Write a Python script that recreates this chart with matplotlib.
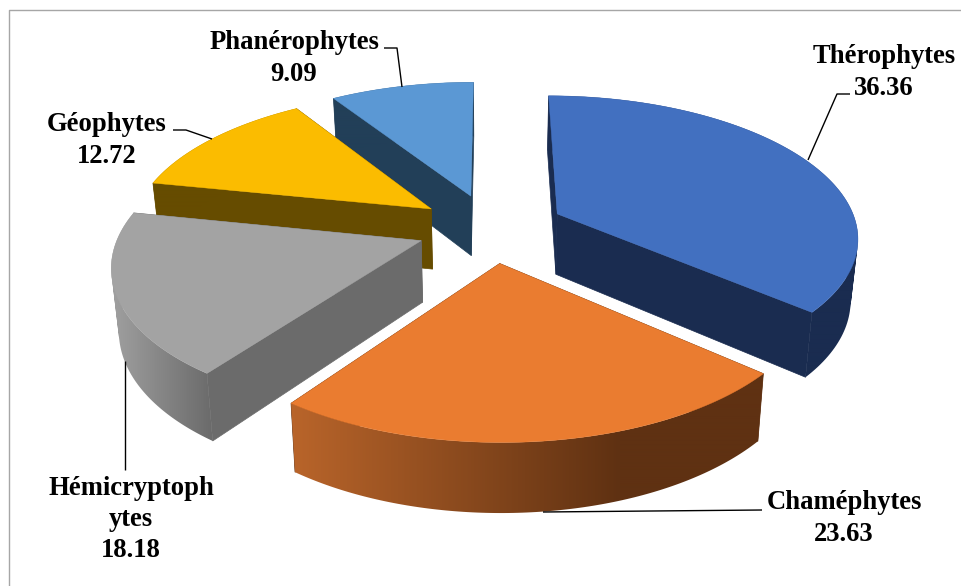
import numpy as np
import matplotlib
matplotlib.use("Agg")
import matplotlib.pyplot as plt
from matplotlib.patches import PathPatch
from matplotlib.path import Path
from matplotlib.colors import to_rgb

# ---------- data ----------
categories = ["Thérophytes", "Chaméphytes", "Hémicryptophytes", "Géophytes", "Phanérophytes"]
wrapped_names = ["Thérophytes", "Chaméphytes", "Hémicryptoph\nytes", "Géophytes", "Phanérophytes"]
values = [36.36, 23.63, 18.18, 12.72, 9.09]

# ---------- styles ----------
top_colors = ["#4270c0", "#ea7c30", "#a3a3a3", "#fbbc00", "#5b98d4"]
wall_colors = ["#1a2c50", "#5f3112", "#6b6b6b", "#664c00", "#223f58"]
rim_light = ["#1a2c50", "#b8642a", "#a0a0a0", "#664c00", "#223f58"]
rim_dark = ["#1a2c50", "#5f3112", "#6b6b6b", "#664c00", "#223f58"]
rim_span = [(700, 860), (296, 620), (112, 212), (150, 300), (330, 480)]
draw_order = [4, 3, 2, 0, 1]

label_centers = [(884, 71), (844, 517), (131, 518), (107, 139), (294, 57)]
leaders = [
    [(850, 94), (837, 94), (808, 160)],
    [(543, 512), (762, 510)],
    [(125, 361), (125, 470)],
    [(173, 130), (186, 130), (212, 139)],
    [(384, 48), (397, 48), (402, 87)],
]

# ---------- projection settings ----------
CX, CY = 491.0, 228.0
RX, RY = 308.0, 143.5
PERSP = 0.155
EXPLODE = 0.24
RADIUS = 0.975
DEPTH = 61.0
SHRINK = 0.02


def project(X, Y):
    w = 1 + PERSP * Y
    return CX + RX * X / w, CY - RY * Y / w


def lower(x, y, X, Y):
    w = 1 + PERSP * Y
    return CX + (x - CX) * (1 - SHRINK), y + DEPTH / w ** 0.7


def gradient_image(c0, c1, x0, x1, left, right):
    xs = np.arange(int(left), int(right) + 2) + 0.5
    t = np.clip((xs - x0) / (x1 - x0), 0, 1)[None, :, None]
    a, b = np.array(to_rgb(c0))[None, None, :], np.array(to_rgb(c1))[None, None, :]
    return a + (b - a) * t


def swept_path(rx, ry, bx, by):
    """Union of the wall quads, all wound the same way so none cancels another."""
    verts, codes = [], []
    for k in range(len(rx) - 1):
        q = np.array([(rx[k], ry[k]), (rx[k + 1], ry[k + 1]), (bx[k + 1], by[k + 1]), (bx[k], by[k])])
        area = np.sum(q[:, 0] * np.roll(q[:, 1], -1) - np.roll(q[:, 0], -1) * q[:, 1])
        if area < 0:
            q = q[::-1]
        verts += list(q) + [q[0]]
        codes += [Path.MOVETO, Path.LINETO, Path.LINETO, Path.LINETO, Path.CLOSEPOLY]
    return Path(np.array(verts), codes)


fig = plt.figure(figsize=(9.61, 5.86), dpi=100, facecolor="white")
ax = fig.add_axes([0, 0, 1, 1])
ax.axis("off")

ax.plot([9, 9, 961], [586, 9.5, 9.5], color="#a6a6a6", lw=1.0, zorder=0)

fractions = np.array(values) / np.sum(values)
starts = np.concatenate([[0], np.cumsum(fractions)[:-1]]) * 2 * np.pi
ends = np.cumsum(fractions) * 2 * np.pi

z = 1
for i in draw_order:
    a0, a1 = starts[i], ends[i]
    mid = (a0 + a1) / 2
    AX, AY = EXPLODE * np.sin(mid), EXPLODE * np.cos(mid)
    th = np.linspace(a0, a1, 120)
    RimX = AX + RADIUS * np.sin(th)
    RimY = AY + RADIUS * np.cos(th)
    rx, ry = project(RimX, RimY)
    bx, by = lower(rx, ry, RimX, RimY)
    ax_x, ax_y = project(AX, AY)
    ab_x, ab_y = lower(ax_x, ax_y, AX, AY)

    # radial walls
    for k in (0, -1):
        ax.fill([ax_x, rx[k], bx[k], ab_x], [ax_y, ry[k], by[k], ab_y],
                color=wall_colors[i], lw=0.5, zorder=z)
    z += 1
    # outer wall with a smooth horizontal gradient
    all_x, all_y = np.r_[rx, bx], np.r_[ry, by]
    left, right = np.floor(all_x.min()), np.ceil(all_x.max())
    top, bottom = np.floor(all_y.min()), np.ceil(all_y.max())
    img = gradient_image(rim_light[i], rim_dark[i], rim_span[i][0], rim_span[i][1], left, right)
    im = ax.imshow(img, extent=[left, right + 2, bottom, top], aspect="auto",
                   interpolation="bilinear", zorder=z)
    clip = PathPatch(swept_path(rx, ry, bx, by), transform=ax.transData, facecolor="none", edgecolor="none")
    ax.add_patch(clip)
    im.set_clip_path(clip)
    z += 1
    # top face
    ax.fill(np.r_[ax_x, rx], np.r_[ax_y, ry], color=top_colors[i], lw=0.3, zorder=z)
    z += 1

for path in leaders:
    xs, ys = zip(*path)
    ax.plot(xs, ys, color="black", lw=1.0, zorder=z, solid_capstyle="butt")
z += 1

for name, val, (tx, ty) in zip(wrapped_names, values, label_centers):
    ax.text(tx, ty + 1.5, f"{name}\n{val:.2f}", ha="center", va="center", family="Liberation Serif",
            weight="bold", size=19.2, linespacing=1.34, color="black", zorder=z)

ax.set_xlim(0, 961)
ax.set_ylim(586, 0)
fig.savefig("out.png", dpi=100)
